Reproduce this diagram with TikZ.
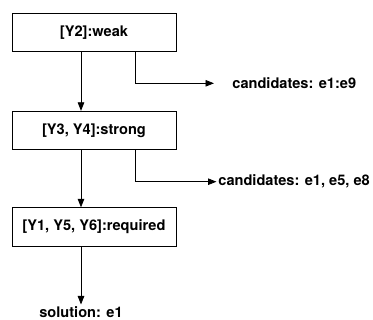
\documentclass[tikz,border=0pt]{standalone}
\usepackage{fontspec}
\setmainfont{TeX Gyre Heros}
\usetikzlibrary{arrows.meta}
\begin{document}
\begin{tikzpicture}[x = 1pt, y = -1pt, line width = .8pt, >={Triangle[length = 8.5pt, width = 6.5pt]},
		font = \fontsize{14.6}{17}\selectfont\bfseries]
		\useasboundingbox (0,0) rectangle (373,320);
		\foreach \name/\txt/\y in {weak/{[Y2]:weak}/32.5, strong/{[Y3, Y4]:strong}/130.5, required/{[Y1, Y5, Y6]:required}/227}{
			\node[draw, minimum width = 164pt, minimum height = 38.5pt] (\name) at (94, \y) {\txt};
			}
		\node[right, inner sep = 0] (cand1) at (232, 83.3) {candidates: e1:e9};
		\node[right, inner sep = 0] (cand2) at (218, 181.7) {candidates: e1, e5, e8};
		\node[below, inner sep = 0] (sol) at (81, 306.5) {solution: e1};
		\draw[->] ([xshift = -13pt]weak.south) -- ([xshift = -13pt]strong.north);
		\draw[->] ([xshift = -13pt]strong.south) -- ([xshift = -13pt]required.north);
		\draw[->] ([xshift = -13pt]required.south) -- ([yshift = 2pt]sol.north);
		\draw[->] ([xshift = 41pt]weak.south) |- ([xshift = -18pt]cand1.west);
		\draw[->] ([xshift = 41pt]strong.south) |- ([xshift = -1.5pt]cand2.west);
\end{tikzpicture}
\end{document}
